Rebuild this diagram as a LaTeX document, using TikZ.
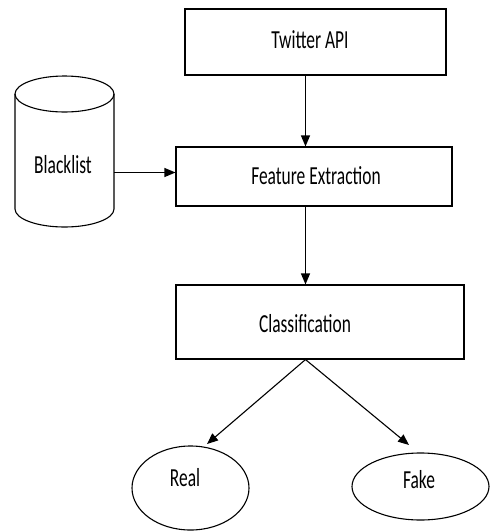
\documentclass[tikz,border=0pt]{standalone}
\usepackage{fontspec}
\newfontfamily\diafont[FakeStretch=0.67]{Carlito}
\usetikzlibrary{shapes.geometric,arrows.meta,calc}
\begin{document}
\begin{tikzpicture}[x=1pt,y=-1pt,
  every node/.style={font=\diafont\fontsize{26}{28}\selectfont},
  box/.style={draw,line width=1.1pt,inner sep=0pt},
  oval/.style={draw,ellipse,line width=1.1pt,inner sep=0pt},
  conn/.style={line width=1.1pt,-{Triangle[length=11pt,width=9pt]}}]
\useasboundingbox (0,0) rectangle (490,531);
% boxes
\node[box,minimum width=261pt,minimum height=66pt] (tw) at (315.5,42) {};
\node at (310,40) (twt) {Twitter API};
\node[box,minimum width=276pt,minimum height=59pt] (fe) at (314,176.5) {};
\node at (316,176) (fet) {Feature Extraction};
\node[box,minimum width=288pt,minimum height=74pt] (cls) at (320,322) {};
\node at (305,324) (clst) {Classification};
% cylinder
\draw[line width=1.1pt] (15,94) -- (15,209) arc[start angle=180,end angle=360,x radius=49.5,y radius=-18] -- (114,94);
\draw[line width=1.1pt] (64.5,94) ellipse[x radius=49.5,y radius=18];
\node (blk) at (63,165) {Blacklist};
\coordinate (blkr) at (114,172.5);
% ellipses
\node[oval,minimum width=117pt,minimum height=84pt] (real) at (190.5,488) {};
\node (realt) at (185,478) {Real};
\node[oval,minimum width=137pt,minimum height=67pt] (fake) at (420.5,486.5) {};
\node (faket) at (419,480) {Fake};
% connectors
\coordinate (ax) at (305.5,0);
\coordinate (rtip) at (207,444);
\coordinate (ftip) at (409,445);
\draw[conn] (tw.south -| ax) -- (fe.north -| ax);
\draw[conn] (fe.south -| ax) -- (cls.north -| ax);
\draw[conn] (blkr) -- (fe.west |- blkr);
\draw[conn] (cls.south -| ax) -- (rtip);
\draw[conn] (cls.south -| ax) -- (ftip);
\end{tikzpicture}
\end{document}
